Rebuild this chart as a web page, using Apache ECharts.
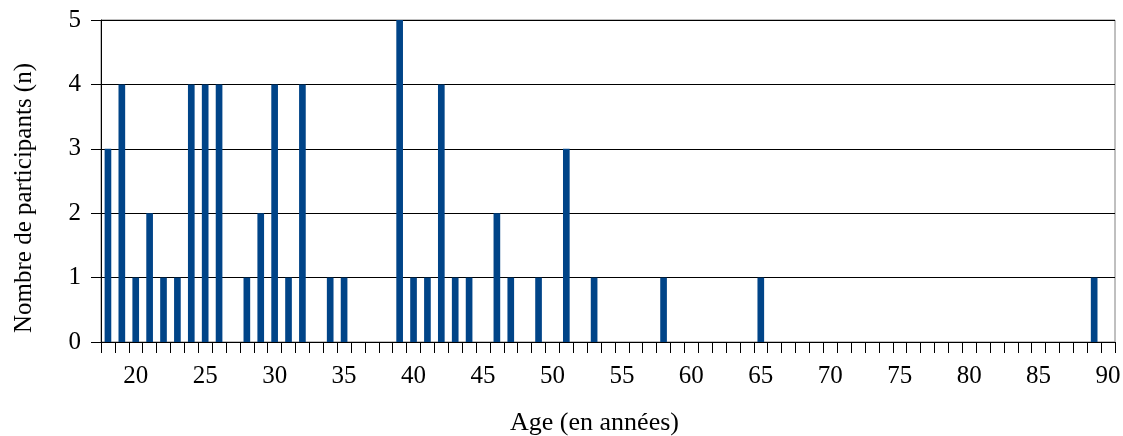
<!DOCTYPE html>
<html>
<head>
<meta charset="utf-8">
<script src="https://cdn.jsdelivr.net/npm/echarts@6/dist/echarts.min.js"></script>
<style>
html,body{margin:0;padding:0;background:#fff;}
#chart{width:1123px;height:436px;}
</style>
</head>
<body>
<div id="chart"></div>
<script>
// Ages 18..90
const ages = [18,19,20,21,22,23,24,25,26,27,28,29,30,31,32,33,34,35,36,37,38,39,40,41,42,43,44,45,46,47,48,49,50,51,52,53,54,55,56,57,58,59,60,61,62,63,64,65,66,67,68,69,70,71,72,73,74,75,76,77,78,79,80,81,82,83,84,85,86,87,88,89,90];
const participants = [3,4,1,2,1,1,4,4,4,0,1,2,4,1,4,0,1,1,0,0,0,5,1,1,4,1,1,0,2,1,0,1,0,3,0,1,0,0,0,0,1,0,0,0,0,0,0,1,0,0,0,0,0,0,0,0,0,0,0,0,0,0,0,0,0,0,0,0,0,0,0,1,0];
const yTicks = [0,1,2,3,4,5];

const font = 'Liberation Serif, Times New Roman, serif';
const chart = echarts.init(document.getElementById('chart'), null, {renderer:'canvas'});
chart.setOption({
  animation:false,
  grid:{left:101, right:8, top:20, bottom:94, containLabel:false, outerBoundsMode:'none',
        show:true, borderColor:'#808080', borderWidth:1, backgroundColor:'transparent'},
  xAxis:{
    type:'category',
    data:ages.map(String),
    name:'Age (en années)',
    nameLocation:'middle',
    nameGap:68,
    nameTextStyle:{fontFamily:font, fontSize:26, color:'#000', padding:[0,27,0,0]},
    axisLine:{lineStyle:{color:'#000', width:1}},
    axisTick:{show:true, interval:0, length:11, lineStyle:{color:'#000'}},
    axisLabel:{
      interval:function(i, v){ return Number(v) % 5 === 0; },
      fontFamily:font, fontSize:25, color:'#000', margin:22
    },
    splitLine:{show:false}
  },
  yAxis:{
    type:'value',
    min:yTicks[0], max:yTicks[yTicks.length-1], interval:1,
    name:'Nombre de participants (n)',
    nameLocation:'middle',
    nameGap:64,
    nameTextStyle:{fontFamily:font, fontSize:25, color:'#000', padding:[0,34,0,0]},
    axisLine:{show:true, lineStyle:{color:'#000', width:1}},
    axisTick:{show:true, length:10, lineStyle:{color:'#000'}},
    axisLabel:{fontFamily:font, fontSize:25, color:'#000', margin:20},
    splitLine:{show:true, lineStyle:{color:'#000', width:1}}
  },
  series:[{
    type:'bar',
    data:participants,
    barWidth:'48%',
    itemStyle:{color:'#004488'}
  }]
});
</script>
</body>
</html>
